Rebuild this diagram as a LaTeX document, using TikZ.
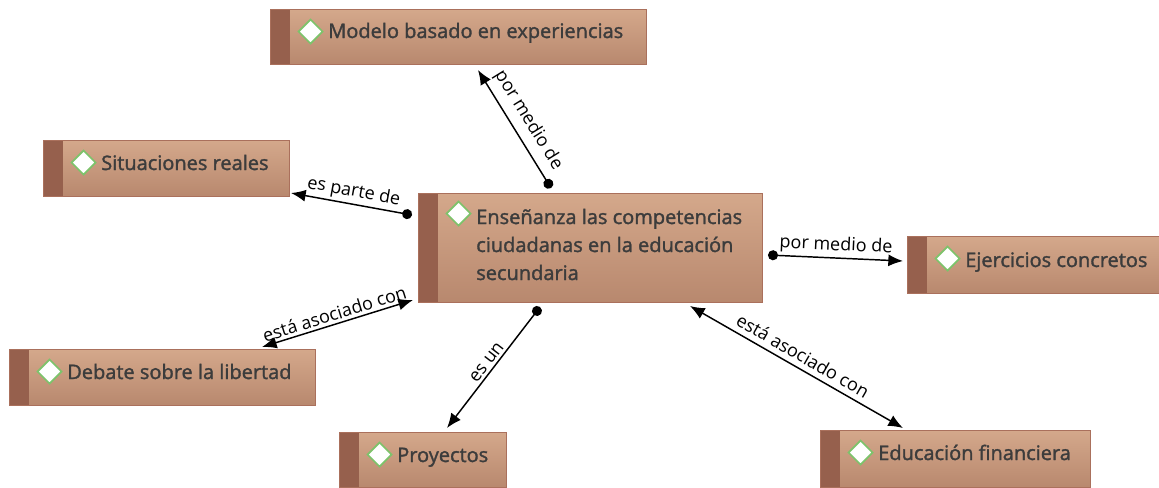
\documentclass[tikz,border=0pt]{standalone}
\usepackage{fontspec}
\setmainfont{Open Sans}
\newfontfamily\boxfont{Open Sans}[FakeBold=1.6]
\usetikzlibrary{arrows.meta,calc}
\definecolor{boxtop}{RGB}{212,168,139}
\definecolor{boxbot}{RGB}{184,136,110}
\definecolor{boxline}{RGB}{170,112,92}
\definecolor{stripc}{RGB}{150,96,77}
\definecolor{txt}{RGB}{60,60,60}
\definecolor{dgreen}{RGB}{125,195,107}
\begin{document}
\begin{tikzpicture}[x=0.75pt,y=-0.75pt,
  concept/.style 2 args={draw=boxline, line width=0.8pt, top color=boxtop, bottom color=boxbot,
    anchor=north west, inner sep=0pt, minimum width=#1*0.75pt, minimum height=#2*0.75pt},
  dia/.style={path picture={
    \fill[stripc] (path picture bounding box.north west) rectangle ($(path picture bounding box.south west)+(19,0)$);
    \draw[dgreen, fill=white, line width=1.3pt] ($(path picture bounding box.north west)+(40,#1)$)
      +(-12,0) -- +(0,-12) -- +(12,0) -- +(0,12) -- cycle;}},
  ctext/.style={text=txt, font=\boxfont\fontsize{15}{21}\selectfont, anchor=base west, inner sep=0pt, align=left},
  lab/.style={text=black, font=\fontsize{13.5}{16}\selectfont, inner sep=2pt},
  dotlink/.style={line width=1.1pt, {Circle[length=7.5pt]}-{Latex[length=11pt,width=9pt]}},
  duallink/.style={line width=1.1pt, {Latex[length=11pt,width=9pt]}-{Latex[length=11pt,width=9pt]}}
]
\useasboundingbox (0,0) rectangle (1159,487);

% boxes
\node[concept={344}{109}, dia=20] (c) at (418,193) {};
\node[concept={376}{55}, dia=22] (m) at (270,9) {};
\node[concept={246}{56}, dia=22] (s) at (43,140) {};
\node[concept={252}{57}, dia=22] (e) at (907,236) {};
\node[concept={306}{56}, dia=22] (d) at (9,349) {};
\node[concept={167}{55}, dia=22] (p) at (339,432) {};
\node[concept={270}{57}, dia=22] (f) at (820,430) {};

% texts
\node[ctext] (ct) at ($(c.north west)+(58,87)$) {Enseñanza las competencias\\ciudadanas en la educación\\secundaria};
\node[ctext] (mt) at ($(m.north west)+(58,29)$) {Modelo basado en experiencias};
\node[ctext] (st) at ($(s.north west)+(58,30)$) {Situaciones reales};
\node[ctext] (et) at ($(e.north west)+(58,31)$) {Ejercicios concretos};
\node[ctext] (dt) at ($(d.north west)+(58,30)$) {Debate sobre la libertad};
\node[ctext] (pt) at ($(p.north west)+(58,30)$) {Proyectos};
\node[ctext] (ft) at ($(f.north west)+(58,30)$) {Educación financiera};

% connectors
\draw[dotlink] ([shift={(133,-5)}]c.north west) -- node[lab, sloped, above=3pt] {por medio de} ([shift={(208,61)}]m.north west);
\draw[dotlink] ([shift={(-6,22)}]c.north west) -- node[lab, sloped, above] {es parte de} ([shift={(248,53)}]s.north west);
\draw[dotlink] ([shift={(350,62)}]c.north west) -- node[lab, sloped, above] {por medio de} ([shift={(-4,25)}]e.north west);
\draw[duallink] ([shift={(-5,107)}]c.north west) -- node[lab, sloped, above] {está asociado con} ([shift={(253,-2)}]d.north west);
\draw[dotlink] ([shift={(122,114)}]c.north west) -- node[lab, sloped, above] {es un} ([shift={(108,-4)}]p.north west);
\draw[duallink] ([shift={(272,113)}]c.north west) -- node[lab, sloped, above=2pt] {está asociado con} ([shift={(83,-2)}]f.north west);
\end{tikzpicture}
\end{document}
